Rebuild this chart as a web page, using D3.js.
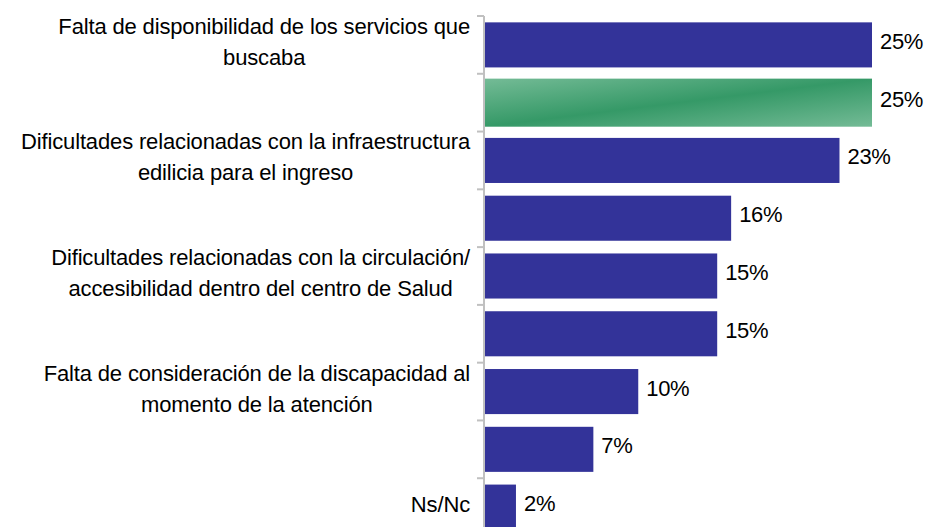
<!DOCTYPE html>
<html>
<head>
<meta charset="utf-8">
<script src="https://cdn.jsdelivr.net/npm/d3@7"></script>
<style>
  html, body { margin: 0; padding: 0; background: #ffffff; }
  svg { display: block; }
  text { font-family: "Liberation Sans", Arial, sans-serif; fill: #000; }
</style>
</head>
<body>
<svg id="chart" width="929" height="527"></svg>
<script>
// ---- data ----
const categoryLines = [
  ["Falta de disponibilidad de los servicios que", "buscaba"],
  [],
  ["Dificultades relacionadas con la infraestructura", "edilicia para el ingreso"],
  [],
  ["Dificultades relacionadas con la circulación/", "accesibilidad dentro del centro de Salud"],
  [],
  ["Falta de consideración de la discapacidad al", "momento de la atención"],
  [],
  ["Ns/Nc"]
];
const values = [25, 25, 22.9, 15.9, 15, 15, 9.9, 7, 2];
const highlighted = [false, true, false, false, false, false, false, false, false];

// ---- layout ----
const svg = d3.select("#chart");
const axisX = 484;
const labelRight = 470;
const fontSize = 22;
const lineH = 31;

const x = d3.scaleLinear().domain([0, 25]).range([axisX + 1, axisX + 1 + 387]);
const y = d3.scaleBand()
  .domain(d3.range(values.length))
  .range([16, 536])
  .paddingInner(0.22)
  .paddingOuter(0.11);

const defs = svg.append("defs");
const grad = defs.append("linearGradient")
  .attr("id", "greenGrad")
  .attr("x1", 0).attr("y1", 0).attr("x2", 1).attr("y2", 1);
grad.append("stop").attr("offset", "0%").attr("stop-color", "#74bb96");
grad.append("stop").attr("offset", "50%").attr("stop-color", "#359967");
grad.append("stop").attr("offset", "100%").attr("stop-color", "#74bb96");

// bars
svg.append("g").selectAll("rect")
  .data(values)
  .join("rect")
  .attr("x", x(0))
  .attr("y", (d, i) => highlighted[i] ? y(i) - 1.5 : y(i))
  .attr("width", d => x(d) - x(0))
  .attr("height", (d, i) => highlighted[i] ? y.bandwidth() + 3 : y.bandwidth())
  .attr("fill", (d, i) => highlighted[i] ? "url(#greenGrad)" : "#333399");

// axis line and ticks
const step = y.step();
const boundaries = d3.range(values.length + 1).map(i => y.range()[0] + i * step);
const axisG = svg.append("g");
axisG.append("line")
  .attr("x1", axisX).attr("x2", axisX)
  .attr("y1", boundaries[0]).attr("y2", boundaries[boundaries.length - 1])
  .attr("stroke", "#c0c0c0").attr("stroke-width", 2);
axisG.selectAll("line.tick")
  .data(boundaries)
  .join("line")
  .attr("class", "tick")
  .attr("x1", axisX - 7).attr("x2", axisX)
  .attr("y1", d => d).attr("y2", d => d)
  .attr("stroke", "#c0c0c0").attr("stroke-width", 2);

// value labels
svg.append("g").selectAll("text")
  .data(values)
  .join("text")
  .attr("x", d => x(d) + 8)
  .attr("y", (d, i) => y(i) + y.bandwidth() / 2 + 4)
  .attr("font-size", fontSize)
  .attr("letter-spacing", -0.3)
  .text(d => Math.round(d) + "%");

// category labels
const catG = svg.append("g");
categoryLines.forEach((lines, i) => {
  if (!lines.length) return;
  const cy = y(i) + y.bandwidth() / 2;
  const t = catG.append("text")
    .attr("font-size", fontSize)
    .attr("letter-spacing", -0.15)
    .attr("text-anchor", "middle");
  const n = lines.length;
  lines.forEach((ln, j) => {
    t.append("tspan")
      .attr("y", cy + (j - (n - 1) / 2) * lineH + 4.5)
      .text(ln);
  });
  let maxW = 0;
  t.selectAll("tspan").each(function () {
    maxW = Math.max(maxW, this.getComputedTextLength());
  });
  t.selectAll("tspan").attr("x", labelRight - maxW / 2);
});
</script>
</body>
</html>
